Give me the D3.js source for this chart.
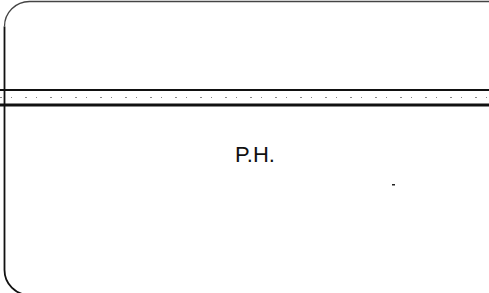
<!DOCTYPE html>
<html>
<head>
<meta charset="utf-8">
<script src="https://cdn.jsdelivr.net/npm/d3@7"></script>
<style>
    html, body { margin: 0; padding: 0; background: #fff; }
    svg { display: block; }
</style>
</head>
<body>
<svg id="sheet"></svg>
<script>
// labels and rules
const labels = ['P.H.'];
const rules = ['upper', 'dotted', 'lower'];
const marks = ['tick'];

class Sheet {
    constructor(_config) {
        this.config = {
            parentElement: _config.parentElement,
            width: 489,
            height: 293,
            frame: { left: 4.5, top: 1.5, radius: 25 }
        }
        this.initVis();
    }

    initVis() {
        let vis = this;

        vis.svg = d3.select(vis.config.parentElement)
            .attr('width', vis.config.width)
            .attr('height', vis.config.height);

        // vertical placement of the ruled lines
        vis.yScale = d3.scalePoint()
            .domain(rules)
            .range([90, 105]);

        vis.styles = {
            upper: { w: 2, dash: null, c: '#111' },
            dotted: { w: 1, dash: '2,9,1,13', c: '#888' },
            lower: { w: 3, dash: null, c: '#111' }
        };

        vis.renderVis();
    }

    renderVis() {
        let vis = this;
        const f = vis.config.frame;
        const r = f.radius;
        const right = vis.config.width + 10;
        const bottom = vis.config.height + 2;

        const p = d3.path();
        p.moveTo(f.left, f.top + r);
        p.arcTo(f.left, f.top, f.left + r, f.top, r);
        p.lineTo(right, f.top);

        vis.svg.append('path')
            .attr('d', p.toString())
            .attr('fill', 'none')
            .attr('stroke', '#444')
            .attr('stroke-width', 1.3);

        const q = d3.path();
        q.moveTo(f.left, f.top + r);
        q.lineTo(f.left, bottom - r);
        q.arcTo(f.left, bottom, f.left + r, bottom, r);
        q.lineTo(right, bottom);

        vis.svg.append('path')
            .attr('d', q.toString())
            .attr('fill', 'none')
            .attr('stroke', '#111')
            .attr('stroke-width', 1.8);

        vis.svg.selectAll('.rule')
            .data(rules)
            .join('line')
            .attr('class', 'rule')
            .attr('x1', 0)
            .attr('x2', vis.config.width)
            .attr('y1', d => vis.yScale(d))
            .attr('y2', d => vis.yScale(d))
            .attr('stroke', d => vis.styles[d].c)
            .attr('stroke-width', d => vis.styles[d].w)
            .attr('stroke-dasharray', d => vis.styles[d].dash);

        vis.svg.selectAll('.label')
            .data(labels)
            .join('text')
            .attr('class', 'label')
            .attr('x', 255)
            .attr('y', 162)
            .attr('text-anchor', 'middle')
            .attr('font-family', 'Liberation Sans, Arial, sans-serif')
            .attr('font-size', 22)
            .attr('fill', '#111')
            .text(d => d);

        vis.svg.selectAll('.mark')
            .data(marks)
            .join('rect')
            .attr('class', 'mark')
            .attr('x', 392)
            .attr('y', 184)
            .attr('width', 3)
            .attr('height', 1.5)
            .attr('fill', '#222');
    }
}

new Sheet({ parentElement: '#sheet' });
</script>
</body>
</html>
